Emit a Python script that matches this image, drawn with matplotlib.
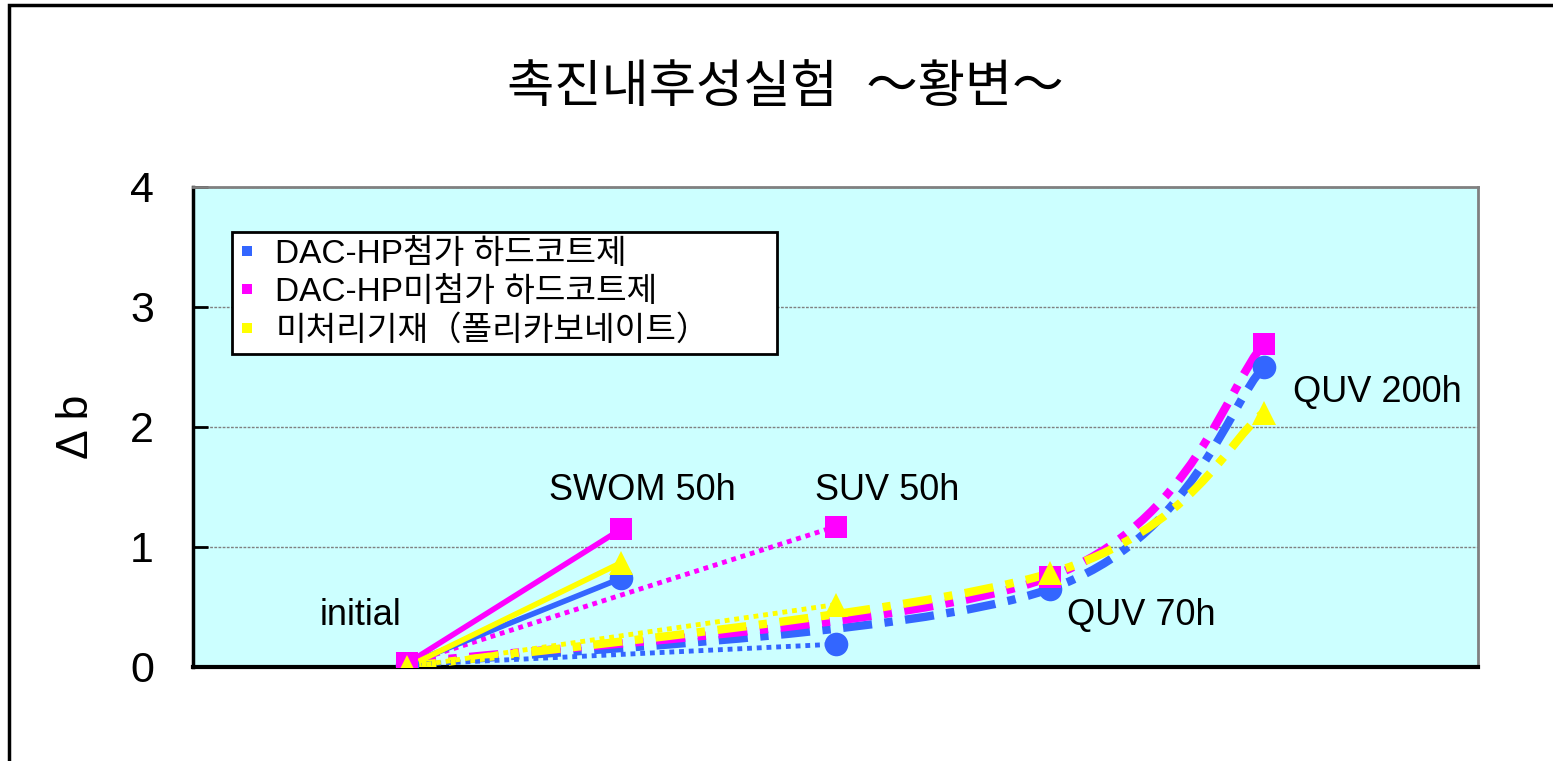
import matplotlib
matplotlib.use("Agg")
import matplotlib.pyplot as plt
from matplotlib.path import Path
from matplotlib.patches import PathPatch, Rectangle
from matplotlib.lines import Line2D

plt.rcParams['font.family'] = ['Liberation Sans', 'Noto Sans CJK KR', 'DejaVu Sans']

# data
categories = ["initial", "SWOM 50h", "SUV 50h", "QUV 70h", "QUV 200h"]
xpos = [1, 2, 3, 4, 5]
series_names = ["DAC-HP첨가 하드코트제", "DAC-HP미첨가 하드코트제", "미처리기재（폴리카보네이트）"]
blue_vals = [0.02, 0.74, 0.19, 0.65, 2.50]
magenta_vals = [0.03, 1.15, 1.17, 0.75, 2.69]
yellow_vals = [0.00, 0.87, 0.52, 0.78, 2.12]

colors = ["#3366FF", "#FF00FF", "#FFFF00"]
markers = ["o", "s", "^"]
msizes = [17, 16, 17]
BG = "#CCFFFF"


def smooth_path(xs, ys):
    # Excel-style smoothed line (Catmull-Rom as cubic Bezier)
    pts = list(zip(xs, ys))
    verts = [pts[0]]
    codes = [Path.MOVETO]
    n = len(pts)
    for i in range(n - 1):
        p0 = pts[i - 1] if i > 0 else pts[i]
        p1 = pts[i]
        p2 = pts[i + 1]
        p3 = pts[i + 2] if i + 2 < n else pts[i + 1]
        c1 = (p1[0] + (p2[0] - p0[0]) / 6, p1[1] + (p2[1] - p0[1]) / 6)
        c2 = (p2[0] - (p3[0] - p1[0]) / 6, p2[1] - (p3[1] - p1[1]) / 6)
        verts += [c1, c2, p2]
        codes += [Path.CURVE4] * 3
    return Path(verts, codes)


fig = plt.figure(figsize=(15.53, 7.61), dpi=100)
ax = fig.add_axes([193 / 1553, 1 - 667 / 761, 1285 / 1553, 480 / 761])
ax.set_facecolor(BG)
ax.set_xlim(0, 6)
ax.set_ylim(0, 4)

all_vals = [blue_vals, magenta_vals, yellow_vals]

# QUV series: initial -> QUV 70h -> QUV 200h, smoothed dash-dot
for vals, c in zip(all_vals, colors):
    qx = [xpos[0], xpos[3], xpos[4]]
    qy = [vals[0], vals[3], vals[4]]
    patch = PathPatch(smooth_path(qx, qy), facecolor="none", edgecolor=c,
                      lw=6, linestyle=(0, (3.5, 1.5, 1, 1.5)), capstyle="butt", zorder=3)
    ax.add_patch(patch)

# SUV series: initial -> SUV 50h, dotted
for vals, c in zip(all_vals, colors):
    ax.plot([xpos[0], xpos[2]], [vals[0], vals[2]], color=c, lw=3.5,
            linestyle=(0, (1, 1)), dash_capstyle="butt", zorder=3)

# SWOM series: initial -> SWOM 50h, solid
for vals, c in zip(all_vals, colors):
    ax.plot([xpos[0], xpos[1]], [vals[0], vals[1]], color=c, lw=4, zorder=3)

for vals, c, m, ms in zip(all_vals, colors, markers, msizes):
    ax.plot(xpos, vals, linestyle="none", marker=m, markersize=ms,
            color=c, markeredgewidth=0, zorder=4)

# point labels
label_xy = [(0.78, 0.43), (2.1, 1.47), (3.24, 1.47), (4.43, 0.43), (5.53, 2.29)]
for txt, (lx, ly) in zip(categories, label_xy):
    ax.text(lx, ly, txt, fontsize=26, ha="center", va="center", zorder=5)

ax.set_yticks([0, 1, 2, 3, 4])
ax.set_xticks([])
ax.tick_params(axis="y", direction="in", length=11, width=2, labelsize=31, pad=28)
ax.grid(axis="y", color="#808080", lw=1, linestyle=(0, (2, 1)))
ax.set_axisbelow(True)
for side in ["top", "right"]:
    ax.spines[side].set_color("#808080")
    ax.spines[side].set_linewidth(2)
ax.spines["left"].set_linewidth(2.5)
ax.spines["bottom"].set_linewidth(3)

ax.set_ylabel("Δ b", fontsize=32, labelpad=24)

handles = [Line2D([], [], linestyle="none", marker="s", markersize=7, color=c,
                  markeredgewidth=0) for c in colors]
leg = ax.legend(handles, series_names, loc="upper left", mode="expand",
                bbox_to_anchor=((232 - 193) / 1285, (667 - 358) / 480, 545 / 1285, 126 / 480),
                fontsize=24, frameon=True,
                fancybox=False, framealpha=1, edgecolor="black",
                handlelength=0.5, handletextpad=0.6, borderpad=0.2,
                labelspacing=0.22, borderaxespad=0)
leg.get_frame().set_linewidth(2)
leg.set_zorder(6)

fig.text(785 / 1553, 1 - 88 / 761, "촉진내후성실험  ～황변～", fontsize=37,
         ha="center", va="center")

# outer chart frame
fig.patches.append(Rectangle((9 / 1553, -0.05), 1.1, 1 - 5 / 761 + 0.05,
                             transform=fig.transFigure, fill=False,
                             edgecolor="black", lw=2.5))

fig.savefig("out.png", dpi=100)
